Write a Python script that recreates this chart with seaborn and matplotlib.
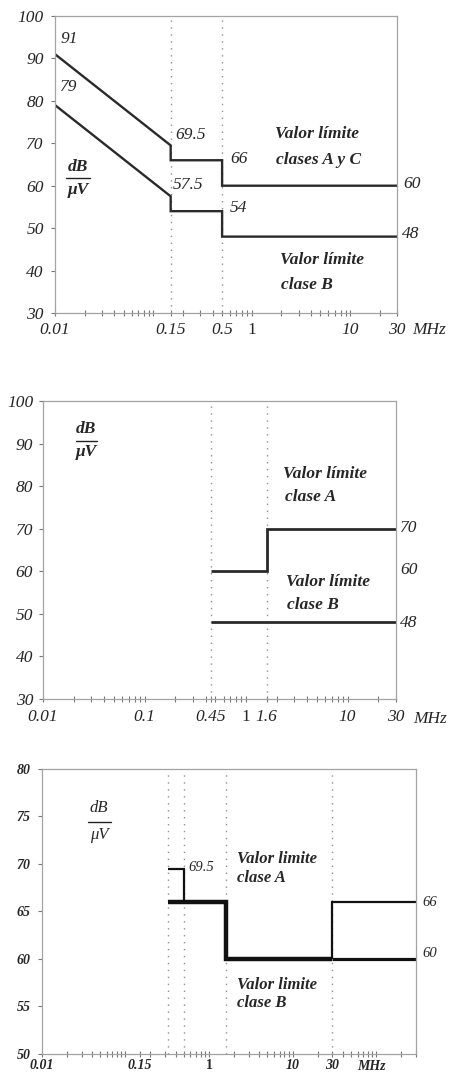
import matplotlib
matplotlib.use("Agg")
import matplotlib.pyplot as plt
import matplotlib.ticker as mticker
from matplotlib.lines import Line2D
import numpy as np
import seaborn as sns

# ---------------- data ----------------
# Panel 1 (limits, classes A&C and class B)
p1_freq_ac = [0.01, 0.15, 0.15, 0.5, 0.5, 30]
p1_level_ac = [91, 69.5, 66, 66, 60, 60]
p1_freq_b = [0.01, 0.15, 0.15, 0.5, 0.5, 30]
p1_level_b = [79, 57.5, 54, 54, 48, 48]
p1_marks = [0.15, 0.5]
p1_xticks = [0.01, 0.15, 0.5, 1, 10, 30]
p1_xticklabels = ["0.01", "0.15", "0.5", "1", "10", "30"]
p1_yticks = [30, 40, 50, 60, 70, 80, 90, 100]

# Panel 2
p2_freq_a = [0.45, 1.6, 1.6, 30]
p2_level_a = [60, 60, 70, 70]
p2_freq_b = [0.45, 30]
p2_level_b = [48, 48]
p2_marks = [0.45, 1.6]
p2_xticks = [0.01, 0.1, 0.45, 1, 1.6, 10, 30]
p2_xticklabels = ["0.01", "0.1", "0.45", "1", "1.6", "10", "30"]
p2_yticks = [30, 40, 50, 60, 70, 80, 90, 100]

# Panel 3
p3_freq_a_peak = [0.32, 0.5, 0.5]
p3_level_a_peak = [69.5, 69.5, 66]
p3_freq_main = [0.32, 1.6, 1.6, 30]
p3_level_main = [66, 66, 60, 60]
p3_freq_b_tail = [30, 300]
p3_level_b_tail = [60, 60]
p3_freq_a_tail = [30, 30, 300]
p3_level_a_tail = [60, 66, 66]
p3_marks = [0.32, 0.5, 1.6, 30]
p3_xticks = [0.01, 0.15, 1, 10, 30]
p3_xticklabels = ["0.01", "0.15", "1", "10", "30"]
p3_yticks = [50, 55, 60, 65, 70, 75, 80]

# ---------------- style ----------------
sns.set_style("white")
plt.rcParams["font.family"] = ["Liberation Serif", "DejaVu Serif"]
plt.rcParams["font.style"] = "italic"

LINE = "#2a2a2a"
SPINE = "#a3a3a3"
DOT = "#8f8f8f"

fig = plt.figure(figsize=(4.51, 10.73), dpi=100)
fig.patch.set_facecolor("white")

ax1 = fig.add_axes([0.12195, 0.70830, 0.75831, 0.27679])
ax2 = fig.add_axes([0.09534, 0.34856, 0.78271, 0.27772])
ax3 = fig.add_axes([0.09246, 0.01771, 0.82993, 0.26561])


def line(ax, fx, ly, lw, color=LINE):
    sns.lineplot(x=fx, y=ly, sort=False, estimator=None, ax=ax,
                 color=color, linewidth=lw, solid_capstyle="butt",
                 solid_joinstyle="miter")


def frame(ax, xlim, ylim, xticks, xlabels, yticks, fs, weight, ypad, xpad):
    ax.set_xscale("log")
    ax.set_xlim(*xlim)
    ax.set_ylim(*ylim)
    ax.set_xlabel("")
    ax.set_ylabel("")
    ax.set_xticks(xticks)
    ax.set_xticklabels(xlabels, fontsize=fs, fontweight=weight)
    ax.xaxis.set_minor_locator(mticker.LogLocator(base=10, subs=np.arange(1, 10), numticks=40))
    ax.xaxis.set_minor_formatter(mticker.NullFormatter())
    ax.set_yticks(yticks)
    ax.set_yticklabels([str(v) for v in yticks], fontsize=fs, fontweight=weight)
    for sp in ax.spines.values():
        sp.set_visible(True)
        sp.set_color(SPINE)
        sp.set_linewidth(0.9)
    ax.tick_params(axis="x", which="both", direction="inout", length=5, width=0.8,
                   color="#777777", pad=xpad, bottom=True)
    ax.tick_params(axis="y", direction="out", length=3, width=0.8, color="#777777",
                   pad=ypad, left=True)
    ax.grid(False)
    for lbl in ax.get_xticklabels():
        if lbl.get_text() == "1":
            lbl.set_fontstyle("normal")


def t(ax, x, y, s, fs, weight="normal", ha="left", style="italic"):
    ax.text(x, y, s, transform=ax.transAxes, fontsize=fs, fontweight=weight,
            ha=ha, va="center", fontstyle=style, clip_on=False)


def dbuv(ax, xc, y_top, y_line, y_bot, x0, x1, fs, weight="bold"):
    t(ax, xc, y_top, "dB", fs, weight, ha="center")
    ax.add_line(Line2D([x0, x1], [y_line, y_line], transform=ax.transAxes,
                       color="#222222", lw=1.0, clip_on=False))
    t(ax, xc, y_bot, "\u03bcV", fs, weight, ha="center")


# ---------------- panel 1 ----------------
for m in p1_marks:
    ax1.axvline(m, color=DOT, lw=1.0, ls=(0, (1, 4)))
line(ax1, p1_freq_ac, p1_level_ac, 1.7)
line(ax1, p1_freq_b, p1_level_b, 1.7)
frame(ax1, (0.01, 30), (30, 100), p1_xticks, p1_xticklabels, p1_yticks, 12.5, "normal", 5, 4)
t(ax1, 1.044, -0.057, "MHz", 12.5)
t(ax1, 0.015, 0.923, "91", 12.5)
t(ax1, 0.015, 0.761, "79", 12.5)
t(ax1, 0.351, 0.599, "69.5", 12.5)
t(ax1, 0.512, 0.518, "66", 12.5)
t(ax1, 0.345, 0.431, "57.5", 12.5)
t(ax1, 0.512, 0.353, "54", 12.5)
t(ax1, 1.017, 0.434, "60", 12.5)
t(ax1, 1.015, 0.266, "48", 12.5)
t(ax1, 0.643, 0.603, "Valor límite", 12.5, "bold")
t(ax1, 0.646, 0.515, "clases A y C", 12.5, "bold")
t(ax1, 0.658, 0.178, "Valor límite", 12.5, "bold")
t(ax1, 0.661, 0.094, "clase B", 12.5, "bold")
dbuv(ax1, 0.067, 0.492, 0.455, 0.414, 0.032, 0.102, 12.5)

# ---------------- panel 2 ----------------
for m in p2_marks:
    ax2.axvline(m, color=DOT, lw=1.0, ls=(0, (1, 4)))
line(ax2, p2_freq_a, p2_level_a, 2.0)
line(ax2, p2_freq_b, p2_level_b, 2.0)
frame(ax2, (0.01, 30), (30, 100), p2_xticks, p2_xticklabels, p2_yticks, 12.5, "normal", 4, 5)
t(ax2, 1.048, -0.067, "MHz", 12.5)
t(ax2, 1.011, 0.574, "70", 12.5)
t(ax2, 1.011, 0.433, "60", 12.5)
t(ax2, 1.011, 0.255, "48", 12.5)
t(ax2, 0.680, 0.755, "Valor límite", 12.5, "bold")
t(ax2, 0.686, 0.678, "clase A", 12.5, "bold")
t(ax2, 0.688, 0.393, "Valor límite", 12.5, "bold")
t(ax2, 0.691, 0.315, "clase B", 12.5, "bold")
dbuv(ax2, 0.122, 0.906, 0.866, 0.829, 0.093, 0.153, 12.5)

# ---------------- panel 3 ----------------
for m in p3_marks:
    ax3.axvline(m, color=DOT, lw=1.0, ls=(0, (1, 4)))
line(ax3, p3_freq_a_peak, p3_level_a_peak, 1.6, "#111111")
line(ax3, p3_freq_a_tail, p3_level_a_tail, 1.6, "#111111")
line(ax3, p3_freq_b_tail, p3_level_b_tail, 2.3, "#111111")
line(ax3, p3_freq_main, p3_level_main, 3.2, "#111111")
frame(ax3, (0.01, 300), (50, 80), p3_xticks, p3_xticklabels, p3_yticks, 10, "bold", 5, 1)
t(ax3, 0.842, -0.045, "MHz", 10, "bold")
t(ax3, 0.391, 0.656, "69.5", 10.5)
t(ax3, 1.016, 0.533, "66", 10.5)
t(ax3, 1.016, 0.351, "60", 10.5)
t(ax3, 0.522, 0.684, "Valor limite", 12, "bold")
t(ax3, 0.522, 0.6175, "clase A", 12, "bold")
t(ax3, 0.522, 0.242, "Valor limite", 12, "bold")
t(ax3, 0.522, 0.179, "clase B", 12, "bold")
dbuv(ax3, 0.153, 0.863, 0.814, 0.768, 0.124, 0.185, 12, "normal")

fig.savefig("out.png", dpi=100, facecolor="white")
